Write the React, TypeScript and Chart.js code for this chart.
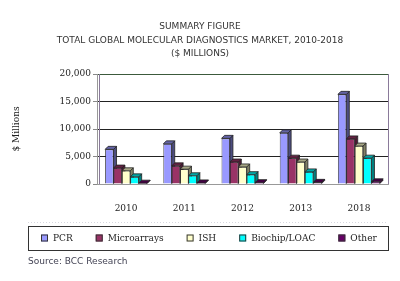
import React, { useEffect, useRef } from "react";
import { Chart, registerables } from "chart.js";

Chart.register(...registerables);

const categories = ["2010", "2011", "2012", "2013", "2018"];
const pcr = [6300, 7300, 8300, 9300, 16300];
const microarrays = [2900, 3300, 4000, 4700, 8200];
const ish = [2400, 2700, 3100, 4000, 6900];
const biochip = [1300, 1500, 1700, 2200, 4700];
const other = [150, 200, 250, 300, 400];
const seriesNames = ["PCR", "Microarrays", "ISH", "Biochip/LOAC", "Other"];
const seriesColors = ["#9999FF", "#993366", "#FFFFCC", "#00FFFF", "#660066"];
const titleLines = [
  "SUMMARY FIGURE",
  "TOTAL GLOBAL MOLECULAR DIAGNOSTICS MARKET, 2010-2018",
  "($ MILLIONS)",
];
const yTitle = "$ Millions";
const sourceText = "Source: BCC Research";

function shade(hex: string, f: number) {
  const n = parseInt(hex.slice(1), 16);
  const r = Math.round(((n >> 16) & 255) * f);
  const g = Math.round(((n >> 8) & 255) * f);
  const b = Math.round((n & 255) * f);
  return `rgb(${r},${g},${b})`;
}

const DEPTH = 3;

const threeD = {
  id: "threeD",
  beforeDatasetsDraw(chart: any) {
    const ctx = chart.ctx;
    chart.data.datasets.forEach((ds: any, di: number) => {
      const meta = chart.getDatasetMeta(di);
      meta.data.forEach((bar: any) => {
        const { x, y, base, width } = bar.getProps(["x", "y", "base", "width"], true);
        const l = x - width / 2;
        const r = x + width / 2;
        const c = ds.backgroundColor as string;
        ctx.save();
        ctx.lineWidth = 0.8;
        ctx.strokeStyle = "#222";
        ctx.beginPath();
        ctx.moveTo(r, y);
        ctx.lineTo(r + DEPTH, y - DEPTH);
        ctx.lineTo(r + DEPTH, base - DEPTH);
        ctx.lineTo(r, base);
        ctx.closePath();
        ctx.fillStyle = shade(c, 0.5);
        ctx.fill();
        ctx.stroke();
        ctx.beginPath();
        ctx.moveTo(l, y);
        ctx.lineTo(l + DEPTH, y - DEPTH);
        ctx.lineTo(r + DEPTH, y - DEPTH);
        ctx.lineTo(r, y);
        ctx.closePath();
        ctx.fillStyle = shade(c, 0.65);
        ctx.fill();
        ctx.stroke();
        ctx.restore();
      });
    });
  },
};

const decor = {
  id: "decor",
  afterDraw(chart: any) {
    const ctx = chart.ctx;
    ctx.save();
    ctx.fillStyle = "#333";
    ctx.font = "9px 'DejaVu Sans'";
    ctx.textAlign = "center";
    ctx.textBaseline = "middle";
    const ty = [27, 41, 54];
    titleLines.forEach((t, i) => ctx.fillText(t, 200, ty[i]));

    ctx.strokeStyle = "#d8d8e0";
    ctx.setLineDash([1, 2]);
    ctx.beginPath();
    ctx.moveTo(28, 222.5);
    ctx.lineTo(388, 222.5);
    ctx.stroke();
    ctx.setLineDash([]);

    ctx.strokeStyle = "#333";
    ctx.lineWidth = 1;
    ctx.strokeRect(28.5, 226.5, 360, 24);
    ctx.font = "9px 'DejaVu Serif'";
    ctx.textAlign = "left";
    let x = 41;
    const ly = 238.5;
    chart.data.datasets.forEach((ds: any) => {
      ctx.fillStyle = ds.backgroundColor;
      ctx.fillRect(x, ly - 4, 7, 7);
      ctx.strokeStyle = "#333";
      ctx.strokeRect(x + 0.5, ly - 3.5, 6, 6);
      ctx.fillStyle = "#222";
      ctx.fillText(ds.label, x + 12, ly);
      x += 12 + ctx.measureText(ds.label).width + 23;
    });

    ctx.font = "9px 'DejaVu Sans'";
    ctx.fillStyle = "#445";
    ctx.fillText(sourceText, 28, 262);

    const a = chart.chartArea;
    ctx.strokeStyle = "#8a7a9a";
    ctx.lineWidth = 1;
    ctx.beginPath();
    ctx.moveTo(a.left + 2.5, a.top);
    ctx.lineTo(a.left + 2.5, a.bottom);
    ctx.moveTo(a.right + 0.5, a.top);
    ctx.lineTo(a.right + 0.5, a.bottom);
    ctx.stroke();
    ctx.restore();
  },
};

export default function App() {
  const ref = useRef<HTMLCanvasElement>(null);
  useEffect(() => {
    if (!ref.current) return;
    const allSeries = [pcr, microarrays, ish, biochip, other];
    const chart = new Chart(ref.current, {
      type: "bar",
      data: {
        labels: categories,
        datasets: allSeries.map((d, i) => ({
          label: seriesNames[i],
          data: d,
          backgroundColor: seriesColors[i],
          borderColor: "#222",
          borderWidth: 0.8,
          barPercentage: 1,
          categoryPercentage: 0.72,
        })),
      },
      options: {
        animation: false,
        responsive: true,
        maintainAspectRatio: false,
        layout: { padding: { top: 74, right: 12, bottom: 67, left: 0 } },
        plugins: { legend: { display: false }, tooltip: { enabled: false } },
        scales: {
          y: {
            min: 0,
            max: 20000,
            afterFit: (s: any) => {
              s.width = 97;
            },
            ticks: {
              stepSize: 5000,
              padding: 2,
              color: "#222",
              font: { family: "'DejaVu Serif'", size: 9 },
              callback: (v: any) => Number(v).toLocaleString("en-US"),
            },
            grid: {
              color: (c: any) =>
                c.tick && c.tick.value === 20000 ? "#3c5a3c" : c.tick && c.tick.value === 0 ? "#999" : "#222",
              tickLength: 4,
              tickColor: "#888",
            },
            border: { color: "#999", width: 1 },
            title: {
              display: true,
              text: yTitle,
              color: "#222",
              font: { family: "'DejaVu Serif'", size: 9 },
              padding: { top: 11, bottom: 0 },
            },
          },
          x: {
            afterFit: (s: any) => {
              s.height = 30;
            },
            grid: { display: false },
            border: { color: "#999" },
            ticks: {
              padding: 11,
              color: "#222",
              font: { family: "'DejaVu Serif'", size: 9 },
            },
          },
        },
      },
      plugins: [threeD, decor],
    });
    return () => chart.destroy();
  }, []);
  return (
    <div style={{ position: "fixed", left: 0, top: 0, width: 400, height: 281, background: "#fff" }}>
      <canvas ref={ref} />
    </div>
  );
}
